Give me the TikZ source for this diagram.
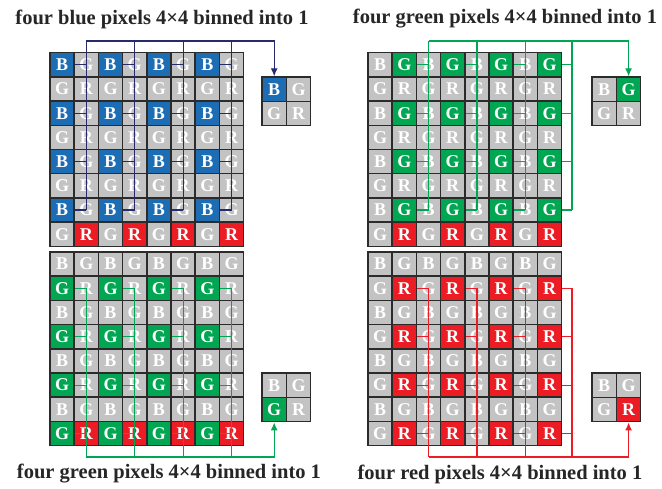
\documentclass[tikz,border=0pt]{standalone}
\usepackage{fontspec}
\setmainfont{Liberation Serif}
\usetikzlibrary{arrows.meta}
\definecolor{pxblue}{HTML}{1C6DB3}
\definecolor{pxgreen}{HTML}{00A651}
\definecolor{pxred}{HTML}{EC1C24}
\definecolor{pxgray}{HTML}{C3C3C3}
\definecolor{pxnavy}{HTML}{272B6C}
\definecolor{pxedge}{HTML}{2B2B2B}
\newcommand\pxgrid[5]{% name, x0, y0, highlight type, colour
  \foreach \r in {0,...,7}{
    \foreach \c in {0,...,7}{
      \pgfmathtruncatemacro\t{mod(\r,2)*2+mod(\c,2)}
      \edef\pxlet{\ifcase\t B\or G\or G\or R\fi}
      \def\pxfill{pxgray}
      \ifnum\t=#4 \def\pxfill{#5}\fi
      \ifnum\t=3 \ifnum\r=7 \def\pxfill{pxred}\fi\fi
      \node[px, fill=\pxfill] (#1-\r-\c) at ({#2+(\c+0.5)*24.2},{#3+(\r+0.5)*24.2}) {\pxlet};
    }
  }
}
\newcommand\pxsmall[5]{% name, x0, y0, highlight type, colour
  \foreach \r in {0,1}{
    \foreach \c in {0,1}{
      \pgfmathtruncatemacro\t{\r*2+\c}
      \edef\pxlet{\ifcase\t B\or G\or G\or R\fi}
      \def\pxfill{pxgray}
      \ifnum\t=#4 \def\pxfill{#5}\fi
      \node[px, fill=\pxfill] (#1-\r-\c) at ({#2+(\c+0.5)*24.4},{#3+(\r+0.5)*24.4}) {\pxlet};
    }
  }
}
\begin{document}
\begin{tikzpicture}[x=1pt,y=-1pt,
  px/.style={draw=pxedge, line width=1.5pt, minimum size=24.2pt, inner sep=0pt,
    text=white, font=\bfseries\fontsize{18}{18}\selectfont},
  title/.style={font=\bfseries\fontsize{20.5}{20.5}\selectfont, text=black!85},
  wire/.style={line width=1.2pt},
  tip/.style={-{Latex[length=8pt,width=7pt]}}]
\useasboundingbox (0,0) rectangle (662,488);
\fill[white] (0,0) rectangle (662,488);

% grids
\pxgrid{tl}{50}{52.7}{0}{pxblue}
\pxgrid{tr}{368}{52.7}{1}{pxgreen}
\pxgrid{bl}{50}{252}{2}{pxgreen}
\pxgrid{br}{368}{252}{3}{pxred}
\pxsmall{tls}{262}{77}{0}{pxblue}
\pxsmall{trs}{592}{77}{1}{pxgreen}
\pxsmall{bls}{262}{373}{2}{pxgreen}
\pxsmall{brs}{592}{373}{3}{pxred}

% helper coordinates
\coordinate (toprail) at (0,41);
\coordinate (botrail) at (0,457);
\coordinate (trrail) at (572,0);
\coordinate (brrail) at (572,0);

% top-left: blue
\begin{scope}[wire, draw=pxnavy, color=pxnavy]
\foreach \r in {0,2,4,6}{
  \foreach \c in {0,2,4,6}{
    \pgfmathtruncatemacro\cc{\c+1}
    \draw (tl-\r-\c.east) -- (tl-\r-\cc.center);
  }
}
\foreach \c in {1,3,5,7}{
  \draw (tl-6-\c.center) -- (tl-6-\c.center |- toprail);
}
\draw[tip] (tl-6-1.center |- toprail) -- (tls-0-0.center |- toprail) -- (tls-0-0.north);
\end{scope}

% top-right: green
\begin{scope}[wire, draw=pxgreen, color=pxgreen]
\foreach \r in {0,2,4,6}{
  \foreach \c in {1,3,5}{
    \pgfmathtruncatemacro\cc{\c+1}
    \draw (tr-\r-\c.east) -- (tr-\r-\cc.center);
  }
  \draw (tr-\r-7.east) -- (tr-\r-7.east -| trrail);
}
\foreach \c in {2,4,6}{
  \draw (tr-6-\c.center) -- (tr-6-\c.center |- toprail);
}
\draw (tr-6-7.center -| trrail) -- (trrail |- toprail);
\draw[tip] (tr-6-2.center |- toprail) -- (trs-0-1.center |- toprail) -- (trs-0-1.north);
\end{scope}

% bottom-left: green
\begin{scope}[wire, draw=pxgreen, color=pxgreen]
\foreach \r in {1,3,5,7}{
  \foreach \c in {0,2,4,6}{
    \pgfmathtruncatemacro\cc{\c+1}
    \draw (bl-\r-\c.east) -- (bl-\r-\cc.center);
  }
}
\foreach \c in {1,3,5,7}{
  \draw (bl-1-\c.center) -- (bl-1-\c.center |- botrail);
}
\draw[tip] (bl-1-1.center |- botrail) -- (bls-1-0.center |- botrail) -- (bls-1-0.south);
\end{scope}

% bottom-right: red
\begin{scope}[wire, draw=pxred, color=pxred]
\foreach \r in {1,3,5,7}{
  \foreach \c in {1,3,5}{
    \pgfmathtruncatemacro\cc{\c+1}
    \draw (br-\r-\c.east) -- (br-\r-\cc.center);
  }
  \draw (br-\r-7.east) -- (br-\r-7.east -| brrail);
}
\foreach \c in {2,4,6}{
  \draw (br-1-\c.center) -- (br-1-\c.center |- botrail);
}
\draw (br-1-7.center -| brrail) -- (brrail |- botrail);
\draw[tip] (br-1-2.center |- botrail) -- (brs-1-1.center |- botrail) -- (brs-1-1.south);
\end{scope}

% titles
\node[title] (t1) at (162,19) {four blue pixels 4×4 binned into 1};
\node[title] (t2) at (505,19) {four green pixels 4×4 binned into 1};
\node[title] (t3) at (169,474) {four green pixels 4×4 binned into 1};
\node[title] (t4) at (500,474) {four red pixels 4×4 binned into 1};
\end{tikzpicture}
\end{document}
